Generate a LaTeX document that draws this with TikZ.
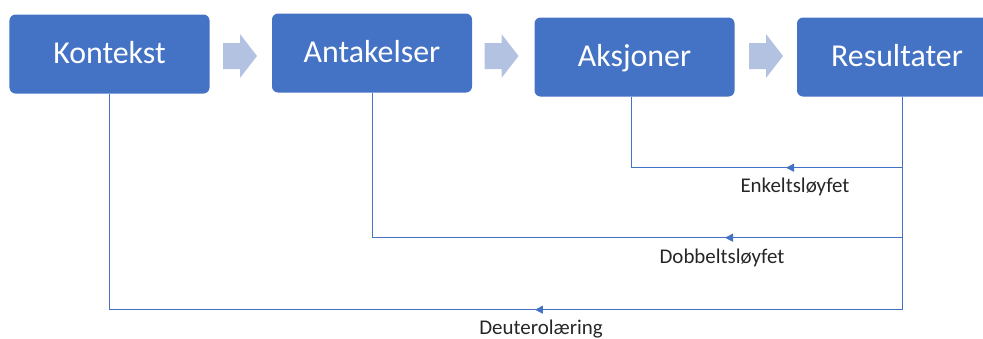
\documentclass[tikz,border=0pt]{standalone}
\usepackage{fontspec}
\setmainfont{Carlito}
\usetikzlibrary{decorations.markings,arrows.meta}
\definecolor{boxblue}{HTML}{4472C4}
\definecolor{arrowblue}{HTML}{B4C2E2}
\definecolor{linecol}{HTML}{4472C4}
\definecolor{lbltext}{HTML}{262626}
\begin{document}
\begin{tikzpicture}[x=1bp,y={(0,-1bp)},
  stage/.style={fill=boxblue, rounded corners=6bp, text=white,
    font=\fontsize{32}{38}\selectfont, minimum width=200bp, minimum height=79bp,
    text height=22bp, text depth=4bp, inner sep=0pt},
  lbl/.style={text=lbltext, font=\fontsize{21}{25}\selectfont, inner sep=0pt, anchor=base},
  loopline/.style={draw=linecol, line width=1bp, postaction=decorate},
  blockarrow/.pic={\fill[arrowblue] (-17,-13) -- (0,-13) -- (0,-22) -- (17,0) -- (0,22) -- (0,13) -- (-17,13) -- cycle;}
]
\useasboundingbox (0,0) rectangle (983,338);
\clip (0,0) rectangle (983,338);

\node[stage] (kon) at (109.5,54) {Kontekst};
\node[stage] (ant) at (372,53) {Antakelser};
\node[stage] (aks) at (634.5,57) {Aksjoner};
\node[stage] (res) at (897,57) {Resultater};

\pic at (240,56) {blockarrow};
\pic at (501.5,56) {blockarrow};
\pic at (766,56) {blockarrow};

\draw[loopline, decoration={markings, mark=at position 187bp with {\arrow{Triangle[length=8bp,width=8bp]}}}]
  ([xshift=5bp]res.south) -- ++(0,71) -| ([xshift=-3.5bp]aks.south);
\draw[loopline, decoration={markings, mark=at position 318bp with {\arrow{Triangle[length=8bp,width=8bp]}}}]
  ([xshift=5bp]res.south) -- ++(0,141) -| (ant.south);
\draw[loopline, decoration={markings, mark=at position 580bp with {\arrow{Triangle[length=8bp,width=8bp]}}}]
  ([xshift=5bp]res.south) -- ++(0,213) -| (kon.south);

\node[lbl] (l1) at (795,192) {Enkeltsløyfet};
\node[lbl] (l2) at (722,263) {Dobbeltsløyfet};
\node[lbl] (l3) at (541,334) {Deuterolæring};
\end{tikzpicture}
\end{document}
